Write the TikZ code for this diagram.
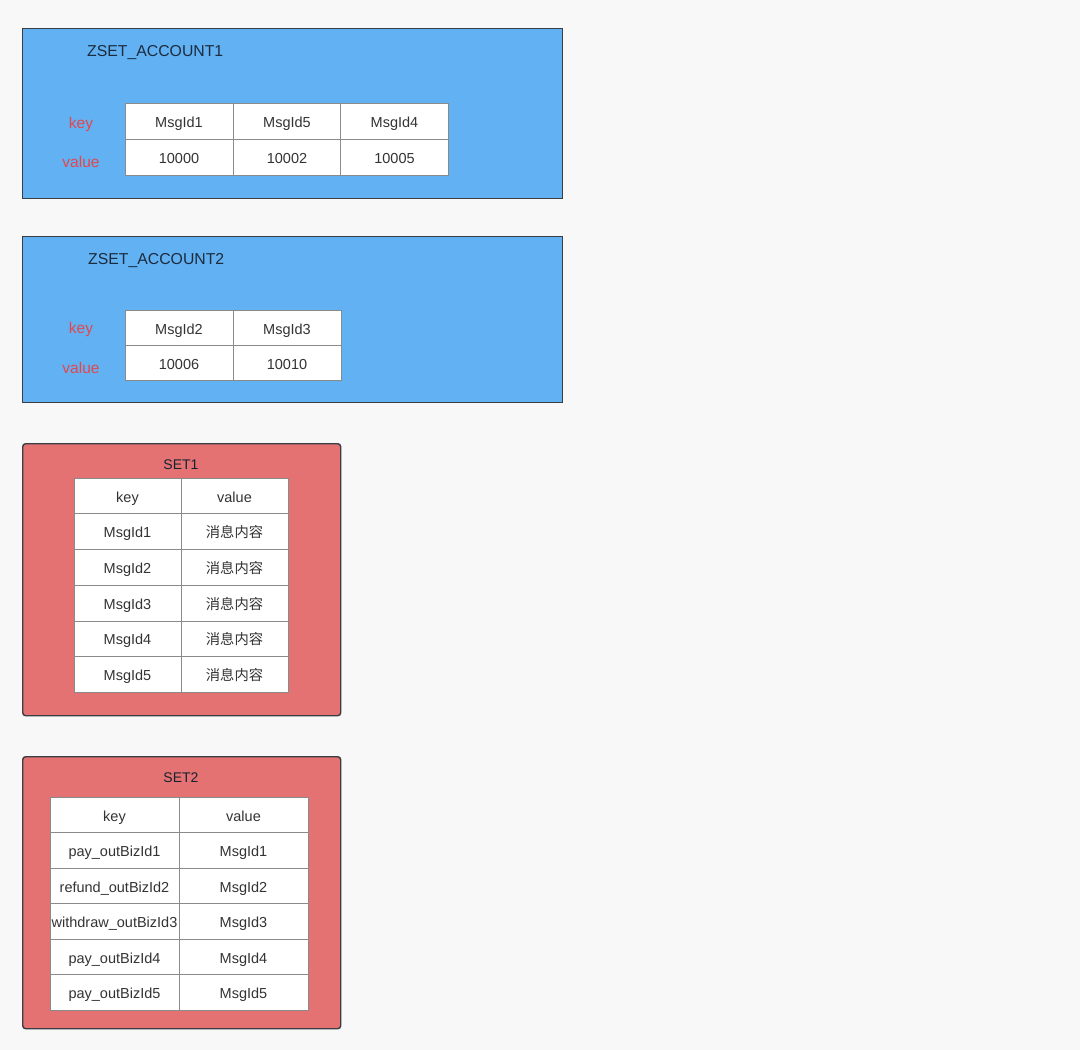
\documentclass[tikz,border=0pt]{standalone}
\usepackage{fontspec}
\setmainfont{Liberation Sans}
\newfontfamily\cjk{Noto Sans CJK SC}
\definecolor{bgc}{HTML}{F8F8F8}
\definecolor{zblue}{HTML}{62B2F3}
\definecolor{sred}{HTML}{E57272}
\definecolor{edge}{HTML}{3A3D42}
\definecolor{gridc}{HTML}{8A8A8A}
\definecolor{txt}{HTML}{333333}
\definecolor{lblred}{HTML}{E2474E}
\definecolor{ttl}{HTML}{1C2B3E}
\tikzset{
  zbox/.style={draw=edge, line width=1.4pt, fill=zblue, anchor=north west, inner sep=0pt},
  sbox/.style={draw=edge, line width=1.4pt, fill=sred, rounded corners=3pt, anchor=north west, inner sep=0pt},
  cell/.style={draw=gridc, line width=0.8pt, fill=white, inner sep=0pt, text=txt, text height=12.2pt, text depth=0pt, font=\fontsize{14.5}{16}\selectfont},
  ztitle/.style={anchor=west, inner sep=0pt, text=ttl, font=\fontsize{15.8}{18}\selectfont},
  stitle/.style={text=ttl!80!black, font=\fontsize{14}{16}\selectfont},
  lbl/.style={text=lblred, font=\fontsize{15.5}{17}\selectfont}
}
\begin{document}
\begin{tikzpicture}[x=1pt,y=-1pt]
\fill[bgc] (0,0) rectangle (1080,1050);
\useasboundingbox (0,0) rectangle (1080,1050);

% ZSET_ACCOUNT1
\node[zbox, minimum width=540pt, minimum height=170pt] (z1) at (22,28) {};
\node[ztitle] (z1t) at (87,53) {ZSET\_ACCOUNT1};
\node[lbl] (z1key) at (81,124.5) {key};
\node[lbl] (z1val) at (81,162) {value};
\foreach \c/\k/\v [count=\n] in {179/MsgId1/10000, 287/MsgId5/10002, 394.5/MsgId4/10005} {
  \node[cell, minimum width=108pt, minimum height=36pt] (z1k\n) at (\c,121) {\k};
  \node[cell, minimum width=108pt, minimum height=36pt] (z1v\n) at (\c,157) {\v};
}

% ZSET_ACCOUNT2
\node[zbox, minimum width=540pt, minimum height=166pt] (z2) at (22,236) {};
\node[ztitle] (z2t) at (88,261) {ZSET\_ACCOUNT2};
\node[lbl] (z2key) at (81,329) {key};
\node[lbl] (z2val) at (81,368) {value};
\foreach \c/\k/\v [count=\n] in {179/MsgId2/10006, 287/MsgId3/10010} {
  \node[cell, minimum width=108pt, minimum height=36pt] (z2k\n) at (\c,328) {\k};
  \node[cell, minimum width=108pt, minimum height=35pt] (z2v\n) at (\c,363) {\v};
}

% SET1
\node[sbox, minimum width=318pt, minimum height=272pt] (s1) at (22,443) {};
\node[stitle] (s1t) at (181,465) {SET1};
\node[cell, minimum width=107pt, minimum height=35.7pt] (s1h1) at (127.5,496) {key};
\node[cell, minimum width=107pt, minimum height=35.7pt] (s1h2) at (234.5,496) {value};
\foreach \k [count=\n] in {MsgId1,MsgId2,MsgId3,MsgId4,MsgId5} {
  \node[cell, minimum width=107pt, minimum height=35.7pt] (s1k\n) at (127.5,{496+35.7*\n}) {\k};
  \node[cell, minimum width=107pt, minimum height=35.7pt] (s1v\n) at (234.5,{496+35.7*\n}) {\cjk\fontsize{14.3}{16}\selectfont 消息内容};
}

% SET2
\node[sbox, minimum width=318pt, minimum height=272pt] (s2) at (22,756) {};
\node[stitle] (s2t) at (181,778) {SET2};
\node[cell, minimum width=129pt, minimum height=35.5pt] (s2h1) at (114.5,815) {key};
\node[cell, minimum width=129pt, minimum height=35.5pt] (s2h2) at (243.5,815) {value};
\foreach \k/\v [count=\n] in {pay\_outBizId1/MsgId1, refund\_outBizId2/MsgId2, withdraw\_outBizId3/MsgId3, pay\_outBizId4/MsgId4, pay\_outBizId5/MsgId5} {
  \node[cell, minimum width=129pt, minimum height=35.5pt] (s2k\n) at (114.5,{815+35.5*\n}) {\k};
  \node[cell, minimum width=129pt, minimum height=35.5pt] (s2v\n) at (243.5,{815+35.5*\n}) {\v};
}
\end{tikzpicture}
\end{document}
